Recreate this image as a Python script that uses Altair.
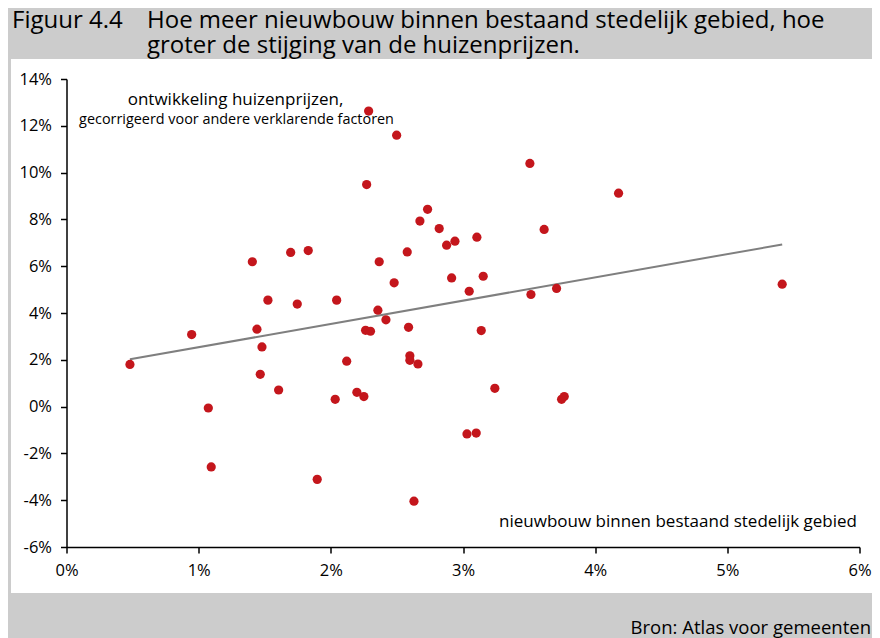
import altair as alt
import pandas as pd

# Data (percentages)
nieuwbouw = [0.48, 0.947, 1.073, 1.095, 1.406, 1.441, 1.479, 1.466, 1.524, 1.605,
             1.696, 1.746, 1.829, 1.897, 2.033, 2.044, 2.12, 2.197, 2.25, 2.263,
             2.30, 2.271, 2.286, 2.356, 2.366, 2.417, 2.479, 2.498, 2.578, 2.588,
             2.598, 2.598, 2.659, 2.629, 2.674, 2.732, 2.82, 2.876, 2.914, 2.939,
             3.047, 3.105, 3.03, 3.10, 3.138, 3.153, 3.241, 3.506, 3.514, 3.614,
             3.708, 3.746, 3.766, 4.177, 5.415]
huizenprijzen = [1.80, 3.08, -0.06, -2.58, 6.19, 3.31, 2.55, 1.38, 4.55, 0.71,
                 6.59, 4.38, 6.67, -3.11, 0.31, 4.55, 1.94, 0.61, 0.43, 3.26,
                 3.22, 9.49, 12.63, 4.12, 6.19, 3.71, 5.29, 11.60, 6.61, 3.39,
                 2.17, 1.98, 1.82, -4.04, 7.93, 8.43, 7.61, 6.90, 5.50, 7.07,
                 4.93, 7.24, -1.17, -1.13, 3.25, 5.57, 0.78, 10.39, 4.79, 7.57,
                 5.05, 0.31, 0.43, 9.12, 5.23]
trend_x = [0.48, 5.415]
trend_y = [2.02, 6.93]
x_ticks = [0, 1, 2, 3, 4, 5, 6]
y_ticks = [-6, -4, -2, 0, 2, 4, 6, 8, 10, 12, 14]

title_label = "Figuur 4.4"
title_lines = ["Hoe meer nieuwbouw binnen bestaand stedelijk gebied, hoe",
               "groter de stijging van de huizenprijzen."]
y_note = ["ontwikkeling huizenprijzen,", "gecorrigeerd voor andere verklarende factoren"]
x_note = "nieuwbouw binnen bestaand stedelijk gebied"
source = "Bron: Atlas voor gemeenten"

FONT = "Open Sans"
RED = "#c4161c"

pts = pd.DataFrame({"x": nieuwbouw, "y": huizenprijzen})
trend = pd.DataFrame({"x": trend_x, "y": trend_y})
one = pd.DataFrame({"d": [0]})

xscale = alt.Scale(domain=[0, 6], nice=False, zero=False)
yscale = alt.Scale(domain=[-6, 14], nice=False, zero=False)

common_axis = dict(labelExpr="datum.value + '%'", title=None, grid=False,
                   domainColor="black", domainWidth=1.5, tickColor="black", tickWidth=1.5,
                   tickSize=6, labelPadding=9, labelFont=FONT, labelFontSize=16.5,
                   labelColor="black", labelFlush=False, labelOverlap=False, zindex=1)
xaxis = alt.Axis(values=x_ticks, **common_axis)
yaxis = alt.Axis(values=y_ticks, **common_axis)

panel = alt.Chart(one).mark_rect(color="white").encode(
    x=alt.value(-55.5), x2=alt.value(805.5), y=alt.value(-20), y2=alt.value(514)
)

line = alt.Chart(trend).mark_line(color="#7f7f7f", strokeWidth=2).encode(
    x=alt.X("x:Q", scale=xscale, axis=xaxis),
    y=alt.Y("y:Q", scale=yscale, axis=yaxis),
)

points = alt.Chart(pts).mark_circle(color=RED, size=85, opacity=1).encode(
    x=alt.X("x:Q", scale=xscale),
    y=alt.Y("y:Q", scale=yscale),
)

def text(t, x, y, size, align="left", baseline="alphabetic"):
    return alt.Chart(one).mark_text(
        text=t, font=FONT, fontSize=size, align=align, baseline=baseline, color="black"
    ).encode(x=alt.value(x), y=alt.value(y))

layers = [
    panel, line, points,
    text(title_label, -54.5, -51.5, 24),
    text(title_lines[0], 80.5, -51.5, 24),
    text(title_lines[1], 80.5, -26, 24),
    text(y_note[0], 169, 21, 17, align="center", baseline="middle"),
    text(y_note[1], 170, 40.5, 14.4, align="center", baseline="middle"),
    text(x_note, 790.5, 443, 17, align="right", baseline="middle"),
    text(source, 804.5, 549, 18.5, align="right", baseline="middle"),
]

chart = alt.layer(*layers).properties(
    width=793, height=468,
    autosize=alt.AutoSizeParams(type="none"),
    padding={"left": 58.5, "top": 71, "right": 12.5, "bottom": 91},
    background="#cccccc",
).configure_view(stroke=None)

chart.save("out.html", embed_options={"renderer": "svg", "actions": False})
